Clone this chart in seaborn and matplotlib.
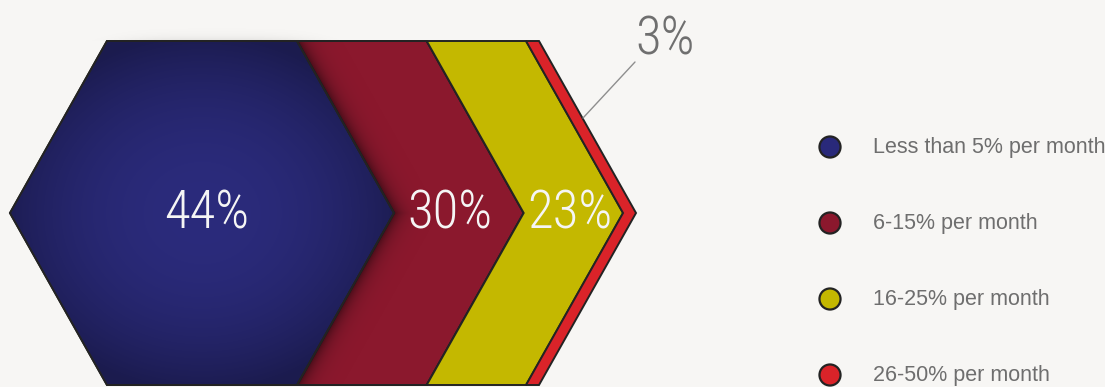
import numpy as np
import matplotlib
matplotlib.use("Agg")
import matplotlib.pyplot as plt
from matplotlib import font_manager
from matplotlib.patches import Polygon
from matplotlib.colors import to_rgb
import seaborn as sns

# ---- data -------------------------------------------------------------
categories = ["Less than 5% per month", "6-15% per month",
              "16-25% per month", "26-50% per month"]
shares = [44, 30, 23, 3]
labels = ["44%", "30%", "23%", "3%"]
colors = ["#29297a", "#8b182d", "#c4b800", "#da2329"]

sns.set_theme(style="white")
BG = "#f7f6f4"
EDGE = "#232323"

installed = {f.name for f in font_manager.fontManager.ttflist}
narrow = next((n for n in ["Roboto Condensed", "Liberation Sans Narrow",
                           "DejaVu Sans Condensed", "Liberation Sans"]
               if n in installed), "DejaVu Sans")
body = next((n for n in ["Liberation Sans", "Roboto"]
             if n in installed), "DejaVu Sans")

W, H = 1105, 387
fig = plt.figure(figsize=(W / 100, H / 100), dpi=100, facecolor=BG)
ax = fig.add_axes([0, 0, 1, 1])
ax.set_facecolor(BG)
ax.set_xlim(0, W)
ax.set_ylim(H, 0)
ax.axis("off")

# ---- geometry of the stacked hexagon ----------------------------------
top, bot = 41, 385
mid = (top + bot) / 2
half = mid - top
slant = 97          # horizontal run of each slanted edge
start = 107         # left end of the top edge
px_per_pct = 4.32
edges = start + px_per_pct * np.concatenate([[0], np.cumsum(shares)])

X, Y = np.meshgrid(np.arange(W) + 0.5, np.arange(H) + 0.5)


def rgba_layer(rgb, alpha):
    img = np.zeros((H, W, 4))
    img[..., :3] = rgb
    img[..., 3] = alpha
    return img


def show_clipped(img, patch, z):
    im = ax.imshow(img, extent=(0, W, H, 0), origin="upper",
                   interpolation="bilinear", zorder=z)
    im.set_clip_path(patch)
    return im


# soft shadow above the top edge of the first segment
cx = (edges[0] + edges[1]) / 2
fade_x = np.exp(-((X - (cx + 15)) / 95.0) ** 4)
glow = np.where(Y < top, 0.09 * np.exp(-(top - Y) / 4.0) * fade_x, 0.0)
ax.imshow(rgba_layer((0, 0, 0), glow), extent=(0, W, H, 0), origin="upper",
          interpolation="bilinear", zorder=0.5)

patches = []
for i, (v, c) in enumerate(zip(shares, colors)):
    a, b = edges[i], edges[i + 1]
    if i == 0:
        pts = [(a, top), (b, top), (b + slant, mid), (b, bot), (a, bot),
               (a - slant, mid)]
    else:
        pts = [(a, top), (b, top), (b + slant, mid), (b, bot), (a, bot),
               (a + slant, mid)]
    poly = Polygon(pts, closed=True, facecolor=c, edgecolor=EDGE,
                   linewidth=1.4, joinstyle="miter", zorder=2 + i * 0.1)
    ax.add_patch(poly)
    patches.append(poly)

# radial shading inside the first segment
r = np.sqrt(((X - cx) / 205) ** 2 + ((Y - mid) / 180) ** 2)
t = np.clip(r, 0, 1) ** 2.2
c_in, c_out = np.array(to_rgb("#2b2b7c")), np.array(to_rgb("#1b1b4e"))
shade = c_in * (1 - t[..., None]) + c_out * t[..., None]
clip1 = Polygon(patches[0].get_xy(), closed=True, facecolor="none",
                edgecolor="none")
ax.add_patch(clip1)
show_clipped(rgba_layer(shade, 1.0), clip1, 2.05)
ax.add_patch(Polygon(patches[0].get_xy(), closed=True, facecolor="none",
                     edgecolor=EDGE, linewidth=1.4, zorder=2.06))

# shadow cast by the first segment onto the second
x_edge = edges[1] + slant * (1 - np.abs(Y - mid) / half)
d = X - x_edge
sh = np.where(d > 0, 0.6 * np.exp(-d / 9.0), 0.0)
clip2 = Polygon(patches[1].get_xy(), closed=True, facecolor="none",
                edgecolor="none")
ax.add_patch(clip2)
show_clipped(rgba_layer((0.08, 0.02, 0.04), sh), clip2, 2.15)
ax.add_patch(Polygon(patches[1].get_xy(), closed=True, facecolor="none",
                     edgecolor=EDGE, linewidth=1.4, zorder=2.16))

# ---- value labels ------------------------------------------------------
lab_x = [cx + 5,
         (edges[1] + edges[2]) / 2 + slant - 9,
         (edges[2] + edges[3]) / 2 + slant - 4]
for x, txt in zip(lab_x, labels[:3]):
    ax.text(x, mid + 1, txt, color="#f5f5f5", fontsize=38, family=narrow,
            fontweight="light", ha="center", va="center", zorder=5)

# small segment: label outside with a leader line
ax.plot([583, 635], [118, 62], color="#8e8e8e", lw=1.0, zorder=4)
ax.text(665, 40, labels[3], color="#6f6f6f", fontsize=38, family=narrow,
        fontweight="light", ha="center", va="center", zorder=5)

# ---- legend ------------------------------------------------------------
leg_y = [147, 223, 299, 375]
sns.scatterplot(x=[830] * 4, y=leg_y, hue=categories, palette=colors,
                s=230, edgecolor=EDGE, linewidth=1.6, legend=False, ax=ax,
                zorder=6)
for y, name in zip(leg_y, categories):
    ax.text(873, y, name, color="#6e6e6e", fontsize=15.5, family=body,
            ha="left", va="center", zorder=6)

ax.set_xlim(0, W)
ax.set_ylim(H, 0)
fig.savefig("out.png", dpi=100, facecolor=BG)
